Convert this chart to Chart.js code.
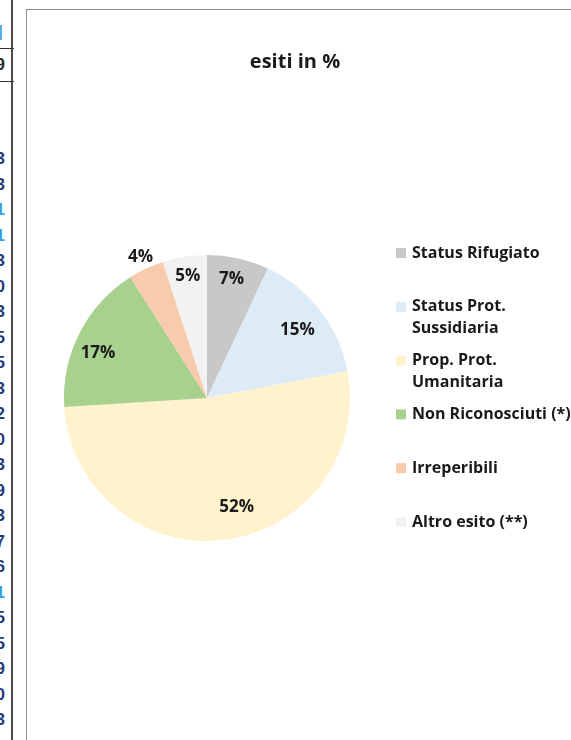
<!DOCTYPE html>
<html>
<head>
<meta charset="utf-8">
<script src="https://cdn.jsdelivr.net/npm/chart.js@4/dist/chart.umd.min.js"></script>
<style>
  html, body { margin: 0; padding: 0; background: #fff; width: 571px; height: 740px; overflow: hidden; position: relative; }
  #sheet { position: absolute; left: 0; top: 0; width: 26px; height: 740px; overflow: hidden; font: bold 17px "Liberation Sans", Arial, sans-serif; }
  #sheet .vline { position: absolute; left: 11px; top: 0; width: 2px; height: 740px; background: #4a4a4a; }
  #sheet .hline { position: absolute; left: 0; width: 14px; height: 1px; background: #333; }
  #sheet .fill { position: absolute; left: 0; top: 25px; width: 2px; height: 15px; background: #5aaee6; }
  #sheet .d { position: absolute; right: 21px; color: #1f3a78; line-height: 16px; }
  #sheet .d.b { color: #3a9fe0; }
  #frame { position: absolute; left: 26px; top: 9px; width: 700px; height: 800px; border: 1px solid #8d8d8d; background: #fff; }
  #pie { position: absolute; left: 0; top: 0; }
</style>
</head>
<body>
<div id="sheet">
  <div class="vline"></div>
  <div class="fill"></div>
  <div class="hline" style="top:48px"></div>
  <div class="hline" style="top:81px"></div>
  <div class="d" style="top:57px; color:#2a2a2a">9</div>
</div>
<div id="frame"></div>
<canvas id="pie" width="571" height="740"></canvas>
<script>
// Outcomes of asylum requests, share of the total in %
const categories = [
  "Status Rifugiato",
  "Status Prot.\nSussidiaria",
  "Prop. Prot.\nUmanitaria",
  "Non Riconosciuti (*)",
  "Irreperibili",
  "Altro esito (**)"
];
const shares = [7, 15, 52, 17, 4, 5];
const sliceColors = ["#c8c8c8", "#ddebf7", "#fff2cc", "#a9d18e", "#f8cbad", "#f2f2f2"];
const chartTitle = "esiti in %";

// Trailing digits of the neighbouring worksheet column, clipped at the window edge
const sheetDigits = ["3","3","1","1","3","0","3","5","5","3","2","0","3","9","3","7","6","1","5","5","9","0","3"];
const sheetBlue = [2, 3, 17];

const sheet = document.getElementById('sheet');
sheetDigits.forEach((d, i) => {
  const el = document.createElement('div');
  el.className = 'd' + (sheetBlue.includes(i) ? ' b' : '');
  el.style.top = (151 + i * 25.5) + 'px';
  el.textContent = d;
  sheet.appendChild(el);
});

const FONT = '"Open Sans", "Noto Sans", sans-serif';

// Percent labels along each slice's bisector (best-fit nudges: angle in degrees,
// radius as a fraction of the outer radius; thin slices sit outside)
const sliceLabels = {
  id: 'sliceLabels',
  afterDatasetsDraw(chart, args, opts) {
    const ctx = chart.ctx;
    const meta = chart.getDatasetMeta(0);
    ctx.save();
    ctx.font = 'bold 17px ' + FONT;
    ctx.fillStyle = '#1a1a1a';
    ctx.textAlign = 'center';
    ctx.textBaseline = 'middle';
    meta.data.forEach((arc, i) => {
      const p = arc.getProps(['x', 'y', 'startAngle', 'endAngle', 'outerRadius'], true);
      const fit = opts.fit[i] || { da: 0, f: 0.83 };
      const mid = (p.startAngle + p.endAngle) / 2 + fit.da * Math.PI / 180;
      const v = chart.data.datasets[0].data[i];
      ctx.fillText(v + '%', p.x + Math.cos(mid) * p.outerRadius * fit.f, p.y + Math.sin(mid) * p.outerRadius * fit.f);
    });
    ctx.restore();
  }
};

// Title and a right-hand legend with wrapped entries
const sideLegend = {
  id: 'sideLegend',
  afterDraw(chart, args, opts) {
    const ctx = chart.ctx;
    ctx.save();
    ctx.fillStyle = '#1a1a1a';
    ctx.textBaseline = 'middle';
    ctx.textAlign = 'center';
    ctx.font = 'bold 20px ' + FONT;
    ctx.fillText(opts.title, opts.titleX, opts.titleY);

    ctx.textAlign = 'left';
    ctx.font = 'bold 16px ' + FONT;
    const labels = chart.data.labels;
    const bg = chart.data.datasets[0].backgroundColor;
    labels.forEach((lab, i) => {
      const y = opts.top + i * opts.step;
      ctx.fillStyle = bg[i];
      ctx.fillRect(opts.boxX, y - 5, 10, 10);
      ctx.fillStyle = '#1a1a1a';
      lab.split('\n').forEach((line, k) => {
        ctx.fillText(line, opts.textX, y + k * opts.lineH);
      });
    });
    ctx.restore();
  }
};

new Chart(document.getElementById('pie'), {
  type: 'pie',
  data: {
    labels: categories,
    datasets: [{
      data: shares,
      backgroundColor: sliceColors,
      borderWidth: 0
    }]
  },
  options: {
    responsive: false,
    animation: false,
    events: [],
    layout: { padding: { left: 64, right: 221, top: 255, bottom: 199 } },
    plugins: {
      legend: { display: false },
      tooltip: { enabled: false },
      sliceLabels: {
        fit: [
          { da: -1, f: 0.85 },
          { da: 1, f: 0.79 },
          { da: -8, f: 0.79 },
          { da: -4.5, f: 0.825 },
          { da: 0, f: 1.09 },
          { da: 0, f: 0.86 }
        ]
      },
      sideLegend: {
        title: chartTitle, titleX: 295, titleY: 62,
        boxX: 396, textX: 412, top: 253, step: 53.8, lineH: 22
      }
    }
  },
  plugins: [sliceLabels, sideLegend]
});
</script>
</body>
</html>
